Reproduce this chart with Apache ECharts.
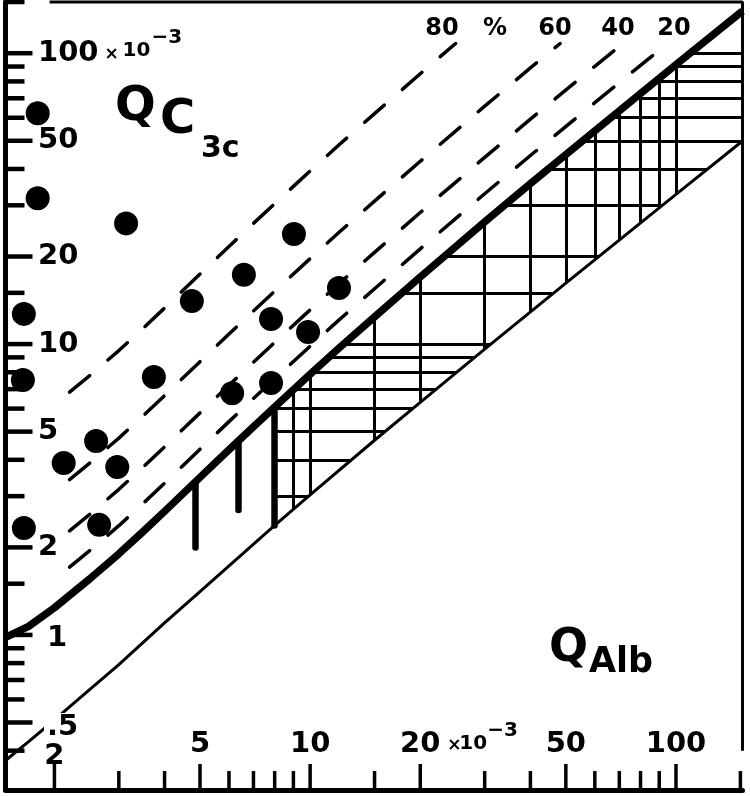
<!DOCTYPE html>
<html><head><meta charset="utf-8">
<script src="https://cdn.jsdelivr.net/npm/echarts@6/dist/echarts.min.js"></script>
<style>html,body{margin:0;padding:0;background:#fff}#c{width:750px;height:796px}</style>
</head><body><div id="c"></div>
<script>
// ---------------- data ----------------
const X_MIN = 1.47, X_MAX = 152, Y_MIN = 0.293, Y_MAX = 150;

const xTickValues = [2,3,4,5,6,7,8,9,10,15,20,30,40,50,60,70,80,90,100,150];
const xLabelValues = [2,5,10,20,50,100];
const xLabelTexts  = ['2','5','10','20','50','100'];
const yTickValues = [0.4,0.5,0.6,0.7,0.8,0.9,1,1.5,2,3,4,5,6,7,8,9,10,15,20,30,40,50,60,70,80,90,100,150];
const yLabelValues = [0.5,1,2,5,10,20,50,100];
const yLabelTexts  = ['.5','1','2','5','10','20','50','100'];

// thick upper limit curve
const limitX = [1.47,1.7,2,2.5,3,3.5,4,5,6,7,8,10,12,15,20,30,40,60,100,152];
const limitY = [0.98,1.07,1.24,1.56,1.9,2.27,2.66,3.48,4.33,5.2,6.08,7.87,9.69,12.4,17.0,26.3,35.6,54.1,91.3,139.7];
// thin lower line
const lowerX = [1.47,1.7,2,2.5,3,4,5,8,10,15,20,30,50,100,152];
const lowerY = [0.37,0.43,0.51,0.65,0.79,1.10,1.41,2.38,3.03,4.67,6.3,9.61,16.2,32.7,49.9];
// intrathecal fraction lines (%)
const percentLevels = [20,40,60,80];
const PCT_START_X = 2.2, PCT_END_Y = 108;

// patients
const dotQAlb = [1.80,1.80,3.14,9.03,6.59,4.75,11.99,7.82,9.87,1.65,3.74,1.64,6.12,7.82,2.60,2.12,2.97,1.65,2.65];
const dotQC3c = [62.2,31.7,26.0,23.9,17.3,14.05,15.6,12.2,11.0,12.7,7.70,7.52,6.78,7.35,4.64,3.90,3.78,2.33,2.39];

// hatching
const hatchLeftX = 8;
const hatchX = [9,10,15,20,30,40,50,60,70,80,90,100];
const hatchY = [3,4,5,6,7,8,9,10,15,20,30,40,50,60,70,80,90,100];
const barX = [4.85,6.35,8];
const barBottomY = [2.0,2.69,2.38];

// ---------------- helpers ----------------
const lg = Math.log10;
function interpLog(xs, ys, x){
  const lx = lg(x);
  let i = 0;
  while (i < xs.length-2 && x > xs[i+1]) i++;
  const t = (lx - lg(xs[i])) / (lg(xs[i+1]) - lg(xs[i]));
  return Math.pow(10, lg(ys[i]) + t*(lg(ys[i+1]) - lg(ys[i])));
}
const upper = x => interpLog(limitX, limitY, x);
const upperInv = y => interpLog(limitY, limitX, y);
const lower = x => interpLog(lowerX, lowerY, x);
const lowerInv = y => interpLog(lowerY, lowerX, y);

const FONT = '"DejaVu Sans", sans-serif';

const hatchSegs = [];
hatchX.forEach(x => hatchSegs.push({coords:[[x, lower(x)],[x, upper(x)]]}));
hatchY.forEach(y => {
  const xa = Math.max(hatchLeftX, upperInv(y));
  const xb = Math.min(X_MAX, lowerInv(y));
  if (xb > xa) hatchSegs.push({coords:[[xa, y],[xb, y]]});
});
const barSegs = barX.map((x,i) => ({coords:[[x, barBottomY[i]],[x, upper(x)]]}));

function percentLine(p){
  const f = 1/(1 - p/100);
  const pts = [[PCT_START_X, upper(PCT_START_X)*f]];
  for (let i=0;i<limitX.length;i++){
    if (limitX[i] <= PCT_START_X) continue;
    const y = limitY[i]*f;
    if (y >= PCT_END_Y){ pts.push([upperInv(PCT_END_Y/f), PCT_END_Y]); break; }
    pts.push([limitX[i], y]);
  }
  return pts;
}

const dashedSeries = percentLevels.map(p => ({
  type:'line', data: percentLine(p), symbol:'none', silent:true, z:3,
  lineStyle:{color:'#000', width:3.5, type:[26,24], cap:'round'}
}));

function txt(x, y, text, size, opts){
  return Object.assign({type:'text', x:x, y:y, style:Object.assign({
    text:text, font:'bold '+size+'px '+FONT, fill:'#000',
    align:'left', verticalAlign:'middle', textAlign:'left', textVerticalAlign:'middle'
  }, opts||{})});
}

const chart = echarts.init(document.getElementById('c'), null, {renderer:'canvas'});
chart.setOption({
  animation:false,
  backgroundColor:'#fff',
  grid:{left:5.5, right:7.5, top:2, bottom:6, containLabel:false},
  xAxis:{type:'log', logBase:10, min:X_MIN, max:X_MAX,
    axisLine:{show:true, onZero:false, lineStyle:{color:'#000', width:5}},
    axisTick:{show:false}, axisLabel:{show:false}, splitLine:{show:false}},
  yAxis:{type:'log', logBase:10, min:Y_MIN, max:Y_MAX,
    axisLine:{show:true, onZero:false, lineStyle:{color:'#000', width:5}},
    axisTick:{show:false}, axisLabel:{show:false}, splitLine:{show:false}},
  series:[
    // frame (top and right)
    {type:'line', data:[[1.94, Y_MAX],[X_MAX, Y_MAX],[X_MAX, 0.4]], symbol:'none', silent:true, clip:false,
      lineStyle:{color:'#000', width:3}},
    // hatching
    {type:'lines', coordinateSystem:'cartesian2d', data:hatchSegs, silent:true, z:2,
      lineStyle:{color:'#000', width:3, opacity:1}},
    {type:'lines', coordinateSystem:'cartesian2d', data:barSegs, silent:true, z:2,
      lineStyle:{color:'#000', width:6.5, opacity:1, cap:'round'}},
    // lower thin line
    {type:'line', data:lowerX.map((x,i)=>[x, lowerY[i]]), symbol:'none', silent:true, z:2,
      lineStyle:{color:'#000', width:3}},
    ...dashedSeries,
    // upper thick curve
    {type:'line', data:limitX.map((x,i)=>[x, limitY[i]]), symbol:'none', silent:true, z:4,
      lineStyle:{color:'#000', width:7.5, join:'round'}},
    // dots
    {type:'scatter', data:dotQAlb.map((x,i)=>[x, dotQC3c[i]]), symbol:'circle', symbolSize:24,
      itemStyle:{color:'#000', opacity:1}, silent:true, z:5},
    // x ticks + labels
    {type:'custom', coordinateSystem:'cartesian2d', clip:false, silent:true, z:6,
      data:xTickValues.map(v => [v, Y_MIN]),
      renderItem:(params, api) => {
        const v = api.value(0);
        const p = api.coord([v, Y_MIN]);
        const li = xLabelValues.indexOf(v);
        const len = li >= 0 ? 26 : 19;
        const ch = [{type:'line', shape:{x1:p[0], y1:p[1], x2:p[0], y2:p[1]-len},
          style:{stroke:'#000', lineWidth:3.5}}];
        if (li >= 0){
          const t = xLabelTexts[li];
          const dy = t === '2' ? -34 : -46;
          ch.push(txt(p[0], p[1]+dy, t, 29, {align:'center', textAlign:'center'}));
          if (t === '20'){
            ch.push(txt(p[0]+27, p[1]-44, '×', 17));
            ch.push(txt(p[0]+39, p[1]-46, '10', 20));
            ch.push(txt(p[0]+67, p[1]-59, '−3', 20));
          }
        }
        return {type:'group', children:ch};
      }},
    // y ticks + labels
    {type:'custom', coordinateSystem:'cartesian2d', clip:false, silent:true, z:6,
      data:yTickValues.map(v => [X_MIN, v]),
      renderItem:(params, api) => {
        const v = api.value(1);
        const p = api.coord([X_MIN, v]);
        const li = yLabelValues.indexOf(v);
        const len = li >= 0 ? 27 : 19;
        const ch = [{type:'line', shape:{x1:p[0], y1:p[1], x2:p[0]+len, y2:p[1]},
          style:{stroke:'#000', lineWidth:4.5}}];
        if (li >= 0){
          const t = yLabelTexts[li];
          if (t === '.5'){
            ch.push(txt(p[0]+38.5, p[1]+5, t, 29, {backgroundColor:'#fff', padding:[0,3,0,3]}));
          } else if (t === '1'){
            ch.push(txt(p[0]+41.5, p[1]+4, t, 29));
          } else {
            ch.push(txt(p[0]+32.5, p[1], t, 29));
          }
          if (t === '100'){
            ch.push(txt(p[0]+99, p[1]+1, '×', 17));
            ch.push(txt(p[0]+117, p[1]-2, '10', 20));
            ch.push(txt(p[0]+146, p[1]-15, '−3', 20));
          }
        }
        return {type:'group', children:ch};
      }}
  ],
  graphic:[
    txt(115, 108, 'Q', 48),
    txt(160, 121, 'C', 48),
    txt(201, 149, '3c', 30),
    txt(549, 649, 'Q', 46),
    txt(589, 663, 'Alb', 35),
    txt(442, 29, '80', 24, {align:'center', textAlign:'center'}),
    txt(495, 29, '%', 24, {align:'center', textAlign:'center'}),
    txt(555, 29, '60', 24, {align:'center', textAlign:'center'}),
    txt(618, 29, '40', 24, {align:'center', textAlign:'center'}),
    txt(674, 29, '20', 24, {align:'center', textAlign:'center'})
  ]
});
</script>
</body></html>
